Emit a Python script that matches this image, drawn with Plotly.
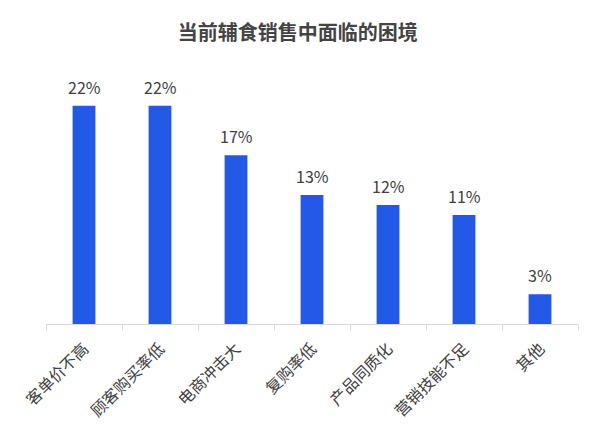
import plotly.graph_objects as go

categories = ["客单价不高", "顾客购买率低", "电商冲击大", "复购率低", "产品同质化", "营销技能不足", "其他"]
values = [22, 22, 17, 13, 12, 11, 3]
labels = [f"{v}%" for v in values]

FONT = "Noto Sans CJK SC, Noto Sans, sans-serif"

fig = go.Figure(go.Bar(
    x=categories, y=values,
    marker=dict(color="#2458E6", line=dict(width=0)),
    width=0.3,
))

for c, v, t in zip(categories, values, labels):
    fig.add_annotation(x=c, y=v, text=t, showarrow=False, yanchor="bottom",
                       yshift=5, font=dict(size=16, color="#404040", family=FONT))

fig.update_layout(
    width=600, height=438,
    margin=dict(l=38, r=30, t=68, b=122),
    paper_bgcolor="white", plot_bgcolor="white",
    showlegend=False,
    title=dict(text="<b>当前辅食销售中面临的困境</b>", x=0.483, xanchor="center",
               y=0.943, yanchor="middle",
               font=dict(size=20, color="#444444", family=FONT)),
    xaxis=dict(tickangle=-45, tickson="boundaries", ticks="outside", ticklen=5,
               tickcolor="#d9d9d9", showline=True, linecolor="#d9d9d9", linewidth=1,
               ticklabelstandoff=8,
               tickfont=dict(size=16, color="#404040", family=FONT), showgrid=False),
    yaxis=dict(range=[0, 25], visible=False, showgrid=False),
)

fig.write_html("out.html")
